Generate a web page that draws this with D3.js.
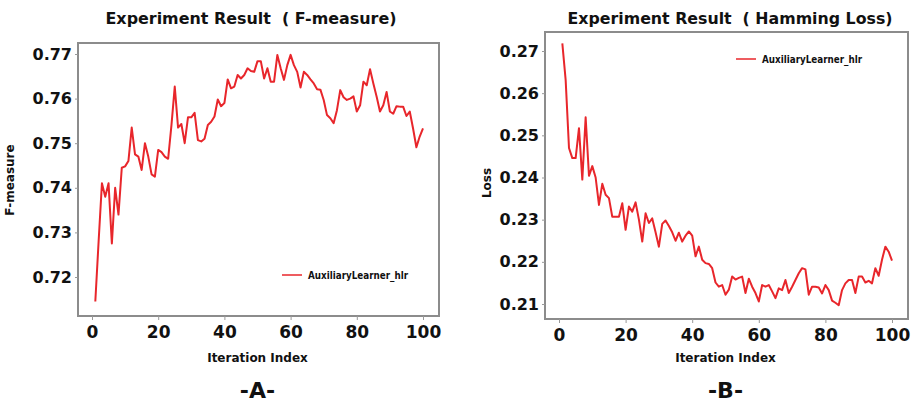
<!DOCTYPE html>
<html lang="en">
<head>
<meta charset="utf-8">
<title>Experiment Result</title>
<script src="https://cdn.jsdelivr.net/npm/d3@7"></script>
<style>
  body { margin: 0; background: #fff; }
  text { font-family: "DejaVu Sans", sans-serif; fill: #111; }
  .tick text { font-weight: bold; }
  .tick line { stroke: #999; }
</style>
</head>
<body>
<script>
// iteration index 1..100
var iterations = d3.range(1, 101);

var fMeasure = [
  0.7145, 0.7280, 0.7410, 0.7380, 0.7410, 0.7275, 0.7400, 0.7340, 0.7445, 0.7448,
  0.7460, 0.7535, 0.7475, 0.7470, 0.7440, 0.7500, 0.7470, 0.7430, 0.7425, 0.7485,
  0.7480, 0.7470, 0.7465, 0.7540, 0.7627, 0.7535, 0.7543, 0.7500, 0.7558, 0.7558,
  0.7568, 0.7507, 0.7504, 0.7510, 0.7541, 0.7548, 0.7560, 0.7598, 0.7583, 0.7590,
  0.7643, 0.7623, 0.7627, 0.7653, 0.7645, 0.7653, 0.7668, 0.7662, 0.7660, 0.7684,
  0.7684, 0.7645, 0.7668, 0.7638, 0.7638, 0.7698, 0.7668, 0.7642, 0.7675, 0.7698,
  0.7675, 0.7660, 0.7625, 0.7660, 0.7653, 0.7643, 0.7634, 0.7621, 0.7620, 0.7597,
  0.7563, 0.7556, 0.7545, 0.7574, 0.7619, 0.7603, 0.7597, 0.7600, 0.7605, 0.7571,
  0.7585, 0.7638, 0.7630, 0.7666, 0.7634, 0.7604, 0.7571, 0.7585, 0.7615, 0.7571,
  0.7566, 0.7583, 0.7582, 0.7582, 0.7561, 0.7571, 0.7533, 0.7491, 0.7515, 0.7533
];

var hammingLoss = [
  0.2718, 0.2631, 0.2470, 0.2446, 0.2446, 0.2517, 0.2395, 0.2543, 0.2404, 0.2427,
  0.2400, 0.2335, 0.2385, 0.2359, 0.2351, 0.2307, 0.2307, 0.2307, 0.2339, 0.2276,
  0.2331, 0.2319, 0.2341, 0.2300, 0.2248, 0.2315, 0.2292, 0.2303, 0.2270, 0.2236,
  0.2290, 0.2298, 0.2285, 0.2270, 0.2250, 0.2269, 0.2248, 0.2262, 0.2272, 0.2262,
  0.2213, 0.2236, 0.2205, 0.2197, 0.2195, 0.2185, 0.2151, 0.2141, 0.2145, 0.2122,
  0.2134, 0.2165, 0.2158, 0.2162, 0.2165, 0.2126, 0.2160, 0.2141, 0.2126, 0.2106,
  0.2145, 0.2141, 0.2145, 0.2130, 0.2114, 0.2137, 0.2133, 0.2157, 0.2126, 0.2141,
  0.2157, 0.2173, 0.2185, 0.2182, 0.2122, 0.2141, 0.2141, 0.2139, 0.2125, 0.2145,
  0.2133, 0.2108, 0.2103, 0.2097, 0.2133, 0.2149, 0.2157, 0.2157, 0.2126, 0.2165,
  0.2165, 0.2151, 0.2155, 0.2149, 0.2185, 0.2167, 0.2205, 0.2236, 0.2224, 0.2203
];

var xTicks = [0, 20, 40, 60, 80, 100];
var fTicks = [0.72, 0.73, 0.74, 0.75, 0.76, 0.77];
var lossTicks = [0.21, 0.22, 0.23, 0.24, 0.25, 0.26, 0.27];
var seriesName = "AuxiliaryLearner_hlr";

var w = 913, h = 403;
var svg = d3.select("body").append("svg")
  .attr("width", w)
  .attr("height", h);

function drawPanel(p) {
  var g = svg.append("g");

  var x = d3.scaleLinear().domain([0, 100]).range(p.xRange);
  var y = d3.scaleLinear().domain(p.yDomain).range(p.yRange);

  // plot frame
  g.append("rect")
    .attr("x", p.box[0]).attr("y", p.box[1])
    .attr("width", p.box[2] - p.box[0])
    .attr("height", p.box[3] - p.box[1])
    .attr("fill", "#fff")
    .attr("stroke", "#8c8c8c")
    .attr("stroke-width", 2);

  // axes
  var yAxis = g.append("g")
    .attr("transform", "translate(" + p.box[0] + ",0)")
    .call(d3.axisLeft(y).tickValues(p.ticks).tickFormat(d3.format(".2f")).tickSize(3).tickPadding(3));
  yAxis.select(".domain").remove();
  yAxis.selectAll("text").style("font-size", "16px");

  var xAxis = g.append("g")
    .attr("transform", "translate(0," + p.box[3] + ")")
    .call(d3.axisBottom(x).tickValues(xTicks).tickSize(4).tickPadding(6));
  xAxis.select(".domain").remove();
  xAxis.selectAll("text").style("font-size", "17px");

  // series line
  var line = d3.line()
    .x(function(d, i) { return x(iterations[i]); })
    .y(function(d) { return y(d); });

  g.append("path")
    .datum(p.values)
    .attr("fill", "none")
    .attr("stroke", "#e8262b")
    .attr("stroke-width", 2)
    .attr("stroke-linejoin", "round")
    .attr("d", line);

  // title (keeps the double space)
  g.append("text")
    .attr("x", p.titleX).attr("y", 24)
    .attr("text-anchor", "middle")
    .attr("font-weight", "bold")
    .attr("font-size", 15)
    .attr("textLength", p.titleLen)
    .attr("lengthAdjust", "spacingAndGlyphs")
    .style("white-space", "pre")
    .text(p.title);

  // axis titles
  var cx = (x(0) + x(100)) / 2;
  g.append("text")
    .attr("x", cx).attr("y", 362)
    .attr("text-anchor", "middle")
    .attr("font-weight", "bold")
    .attr("font-size", 12)
    .text("Iteration Index");

  g.append("text")
    .attr("transform", "translate(" + p.yLabelX + "," + p.yLabelY + ") rotate(-90)")
    .attr("text-anchor", "middle")
    .attr("font-weight", "bold")
    .attr("font-size", 12)
    .text(p.yLabel);

  // panel letter
  g.append("text")
    .attr("x", cx).attr("y", 398)
    .attr("text-anchor", "middle")
    .attr("font-weight", "bold")
    .attr("font-size", 22)
    .text(p.letter);

  // legend
  g.append("line")
    .attr("x1", p.legend[0]).attr("x2", p.legend[0] + 20)
    .attr("y1", p.legend[1]).attr("y2", p.legend[1])
    .attr("stroke", "#e8262b")
    .attr("stroke-width", 1.5);
  g.append("text")
    .attr("x", p.legend[0] + 26).attr("y", p.legend[1] + 4)
    .attr("font-size", 11)
    .attr("font-weight", "bold")
    .attr("textLength", 100)
    .attr("lengthAdjust", "spacingAndGlyphs")
    .text(seriesName);
}

drawPanel({
  title: "Experiment Result  ( F-measure)",
  titleX: 251, titleLen: 291,
  box: [78, 43, 439, 316],
  xRange: [92, 423],
  yDomain: [0.72, 0.77], yRange: [277, 54],
  ticks: fTicks,
  values: fMeasure,
  yLabel: "F-measure", yLabelX: 14, yLabelY: 180,
  letter: "-A-",
  legend: [282, 275]
});

drawPanel({
  title: "Experiment Result  ( Hamming Loss)",
  titleX: 730, titleLen: 325,
  box: [545, 32, 908, 319],
  xRange: [559, 892],
  yDomain: [0.21, 0.27], yRange: [304, 51],
  ticks: lossTicks,
  values: hammingLoss,
  yLabel: "Loss", yLabelX: 491, yLabelY: 183,
  letter: "-B-",
  legend: [736, 59]
});
</script>
</body>
</html>
